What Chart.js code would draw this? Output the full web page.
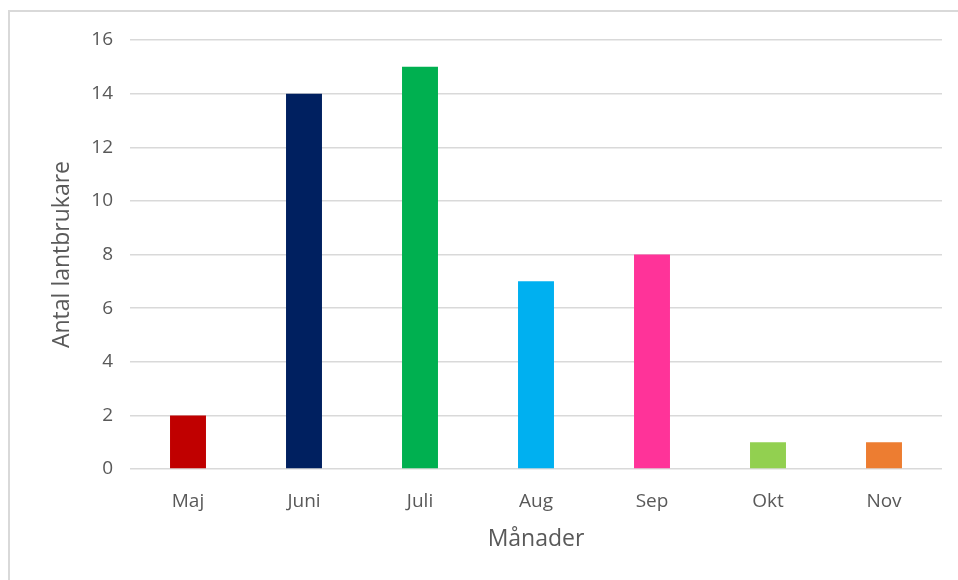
<!DOCTYPE html>
<html>
<head>
<meta charset="utf-8">
<script src="https://cdn.jsdelivr.net/npm/chart.js@4"></script>
<style>
  html, body { margin: 0; padding: 0; background: #fff; }
  #wrap { position: relative; width: 958px; height: 580px; }
</style>
</head>
<body>
<div id="wrap"><canvas id="chart"></canvas></div>
<script>
const manader = ['Maj', 'Juni', 'Juli', 'Aug', 'Sep', 'Okt', 'Nov'];
const antal = [2, 14, 15, 7, 8, 1, 1];
const farger = ['#C00000', '#002060', '#00B050', '#00B0F0', '#FF3399', '#92D050', '#ED7D31'];
const yTicks = [0, 2, 4, 6, 8, 10, 12, 14, 16];

const textFarg = '#595959';
const font = "'Open Sans', Lato, sans-serif";

// ram runt diagrammet (bara vänster och överkant syns)
const ram = {
    id: 'ram',
    beforeDraw(chart) {
        const ctx = chart.ctx;
        ctx.save();
        ctx.strokeStyle = '#d9d9d9';
        ctx.lineWidth = 2;
        ctx.beginPath();
        ctx.moveTo(9, 580);
        ctx.lineTo(9, 11);
        ctx.lineTo(958, 11);
        ctx.stroke();
        ctx.restore();
    }
};

new Chart(document.getElementById('chart'), {
    type: 'bar',
    data: {
        labels: manader,
        datasets: [{
            data: antal,
            backgroundColor: farger,
            barPercentage: 0.31,
            categoryPercentage: 1
        }]
    },
    options: {
        responsive: true,
        maintainAspectRatio: false,
        animation: false,
        layout: {
            padding: { left: 49, right: 16, top: 40, bottom: 27 }
        },
        plugins: {
            legend: { display: false },
            tooltip: { enabled: false }
        },
        scales: {
            x: {
                grid: { display: false },
                border: { display: false },
                ticks: {
                    color: textFarg,
                    font: { family: font, size: 19 },
                    padding: 13
                },
                title: {
                    display: true,
                    text: 'Månader',
                    color: textFarg,
                    font: { family: font, size: 23 },
                    padding: 0
                },
                afterFit(scale) { scale.height = 84; }
            },
            y: {
                min: 0,
                max: 16,
                afterBuildTicks(scale) { scale.ticks = yTicks.map(v => ({ value: v })); },
                grid: { color: '#d9d9d9', lineWidth: 1.5, drawTicks: false },
                border: { display: false },
                ticks: {
                    color: textFarg,
                    font: { family: font, size: 19 },
                    padding: 17
                },
                title: {
                    display: true,
                    text: 'Antal lantbrukare',
                    color: textFarg,
                    font: { family: font, size: 23 },
                    padding: 0
                },
                afterFit(scale) { scale.width = 81; }
            }
        }
    },
    plugins: [ram]
});
</script>
</body>
</html>
